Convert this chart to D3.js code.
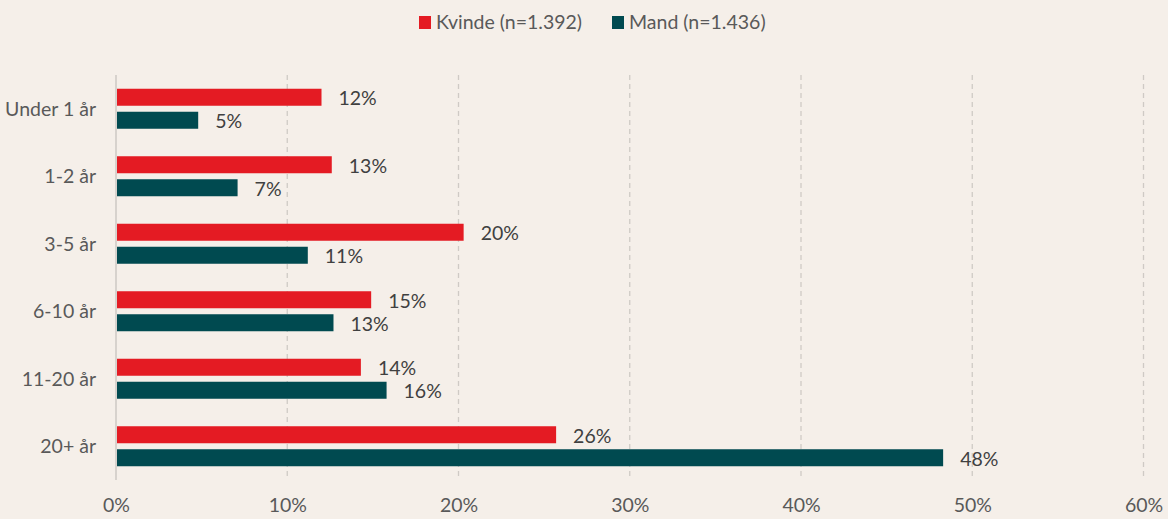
<!DOCTYPE html>
<html>
<head>
<meta charset="utf-8">
<script src="https://cdn.jsdelivr.net/npm/d3@7"></script>
<style>
  html, body { margin: 0; padding: 0; background: #f5efe9; }
  svg { display: block; }
  text { font-family: Lato, "Open Sans", sans-serif; }
</style>
</head>
<body>
<div id="chart"></div>
<script>
// categories, top to bottom
const categories = ["Under 1 år", "1-2 år", "3-5 år", "6-10 år", "11-20 år", "20+ år"];
const seriesNames = ["Kvinde (n=1.392)", "Mand (n=1.436)"];
const kvinde = [12.0, 12.6, 20.3, 14.9, 14.3, 25.7];
const mand = [4.8, 7.1, 11.2, 12.7, 15.8, 48.3];
const kvindeLabels = ["12%", "13%", "20%", "15%", "14%", "26%"];
const mandLabels = ["5%", "7%", "11%", "13%", "16%", "48%"];
const ticks = [0, 10, 20, 30, 40, 50, 60];

const colors = ["#e41b23", "#004a50"];
const fs = 19.5;

const W = 1168, H = 519;
const margin = { top: 75, right: 24, bottom: 39, left: 116 };
const width = W - margin.left - margin.right;
const height = H - margin.top - margin.bottom;

const svg = d3.select("#chart").append("svg")
  .attr("width", W)
  .attr("height", H);

svg.append("rect").attr("width", W).attr("height", H).attr("fill", "#f5efe9");

const x = d3.scaleLinear().domain([0, 60]).range([0, 1027.5]);
const y = d3.scaleBand().domain(categories).range([0, height]).paddingInner(0).paddingOuter(0);

const g = svg.append("g").attr("transform", `translate(${margin.left},${margin.top})`);

// gridlines
g.selectAll(".grid")
  .data(ticks.slice(1))
  .enter().append("line")
  .attr("x1", d => x(d)).attr("x2", d => x(d))
  .attr("y1", 0).attr("y2", height)
  .attr("stroke", "#cfcac5")
  .attr("stroke-width", 1.3)
  .attr("stroke-dasharray", "5,4");

// zero axis
g.append("line")
  .attr("x1", x(0)).attr("x2", x(0))
  .attr("y1", 0).attr("y2", height)
  .attr("stroke", "#cdc8c3")
  .attr("stroke-width", 1.5);

const barH = 17;
const gap = 6;

const rows = categories.map((c, i) => ({ cat: c, vals: [kvinde[i], mand[i]], labels: [kvindeLabels[i], mandLabels[i]] }));

rows.forEach(r => {
  const mid = y(r.cat) + y.bandwidth() / 2;
  r.vals.forEach((v, s) => {
    const top = s === 0 ? mid - gap / 2 - barH : mid + gap / 2;
    g.append("rect")
      .attr("x", x(0) + 1)
      .attr("y", top)
      .attr("width", x(v) - x(0) - 1)
      .attr("height", barH)
      .attr("fill", colors[s]);
    g.append("text")
      .attr("x", x(v) + 17)
      .attr("y", top + barH / 2 + 1)
      .attr("dy", "0.35em")
      .attr("font-size", fs)
      .attr("fill", "#404040")
      .text(r.labels[s]);
  });
});

// category labels
g.selectAll(".cat")
  .data(categories)
  .enter().append("text")
  .attr("x", -20)
  .attr("y", d => y(d) + y.bandwidth() / 2)
  .attr("dy", "0.35em")
  .attr("text-anchor", "end")
  .attr("font-size", fs)
  .attr("fill", "#595959")
  .text(d => d);

// x axis tick labels
const xAxis = d3.axisBottom(x)
  .tickValues(ticks)
  .tickFormat(d => d + "%")
  .tickSize(0)
  .tickPadding(0);

const ax = g.append("g")
  .attr("transform", `translate(0,${height + 18})`)
  .call(xAxis);
ax.select(".domain").remove();
ax.selectAll("text")
  .attr("font-size", fs)
  .attr("font-family", "Lato, 'Open Sans', sans-serif")
  .attr("fill", "#595959");

// legend
const legend = svg.append("g").attr("transform", "translate(419,16)");
const legendX = [0, 193];
seriesNames.forEach((name, i) => {
  const lg = legend.append("g").attr("transform", `translate(${legendX[i]},0)`);
  lg.append("rect").attr("width", 12).attr("height", 13).attr("fill", colors[i]);
  lg.append("text")
    .attr("x", 17)
    .attr("y", 6.5)
    .attr("dy", "0.35em")
    .attr("font-size", fs)
    .attr("fill", "#595959")
    .text(name);
});
</script>
</body>
</html>
